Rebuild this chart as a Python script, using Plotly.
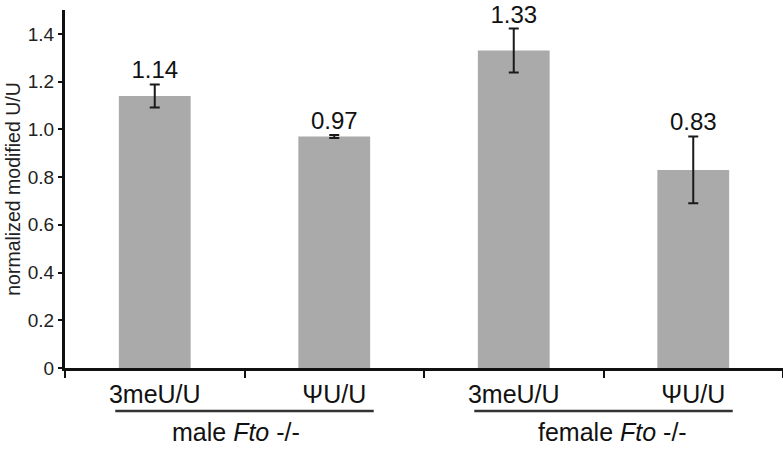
import plotly.graph_objects as go

categories = ["3meU/U", "\u03a8U/U", "3meU/U", "\u03a8U/U"]
values = [1.14, 0.97, 1.33, 0.83]
errors = [0.048, 0.006, 0.092, 0.14]
value_labels = ["1.14", "0.97", "1.33", "0.83"]
groups = ["male <i>Fto</i> -/-", "female <i>Fto</i> -/-"]
group_members = [[0, 1], [2, 3]]
y_tickvals = [0, 0.2, 0.4, 0.6, 0.8, 1.0, 1.2, 1.4]
y_ticktext = ["0", "0.2", "0.4", "0.6", "0.8", "1.0", "1.2", "1.4"]

xpos = list(range(len(categories)))
FONT = "Liberation Sans, Arial, sans-serif"

fig = go.Figure()
fig.add_trace(go.Bar(
    x=xpos, y=values, width=0.4,
    marker=dict(color="#aaaaaa", line=dict(width=0)),
    error_y=dict(type="data", array=errors, visible=True,
                 color="#1a1a1a", thickness=2, width=5),
    showlegend=False, hoverinfo="skip",
))
fig.add_trace(go.Scatter(
    x=xpos, y=[v + e for v, e in zip(values, errors)],
    mode="text", text=value_labels, textposition="top center",
    textfont=dict(family=FONT, size=24, color="#111111"),
    showlegend=False, hoverinfo="skip", cliponaxis=False,
))

label_offsets = [-0.05, 0.05]
for members, g, off in zip(group_members, groups, label_offsets):
    c = sum(members) / len(members)
    fig.add_shape(type="line", xref="x", yref="paper",
                  x0=c - 0.72, x1=c + 0.72, y0=-0.12, y1=-0.12,
                  line=dict(color="#333333", width=2.5))
    fig.add_annotation(x=c + off, y=-0.178, xref="x", yref="paper", text=g,
                       showarrow=False, yanchor="middle", borderpad=0,
                       font=dict(family=FONT, size=25, color="#111111"))

fig.update_layout(
    width=783, height=449,
    margin=dict(l=65, r=0, t=10, b=81, autoexpand=False),
    paper_bgcolor="white", plot_bgcolor="white",
    font=dict(family=FONT, color="#111111"),
    hovermode=False,
)
fig.update_xaxes(
    range=[-0.5, 3.5], tickvals=xpos, ticktext=categories,
    ticks="outside", ticklen=2, tickcolor="rgba(0,0,0,0)",
    tickfont=dict(family=FONT, size=25, color="#111111"),
    showline=True, linecolor="#111111", linewidth=2.5,
    showgrid=False, zeroline=False, automargin=False,
    minor=dict(tick0=0.5, dtick=1, ticks="outside", ticklen=7,
               tickwidth=2, tickcolor="#111111", showgrid=False),
)
fig.update_yaxes(
    range=[0, 1.5], tickvals=y_tickvals, ticktext=y_ticktext,
    ticks="outside", ticklen=4, tickwidth=2, tickcolor="#111111",
    tickfont=dict(family=FONT, size=19, color="#222222"),
    showline=True, linecolor="#111111", linewidth=3,
    showgrid=False, zeroline=False, automargin=False,
    title=dict(text="normalized modified U/U", standoff=2,
               font=dict(family=FONT, size=19.5, color="#222222")),
)

fig.write_html("out.html", config={"displayModeBar": False},
               post_script="document.body.style.margin='0';")
